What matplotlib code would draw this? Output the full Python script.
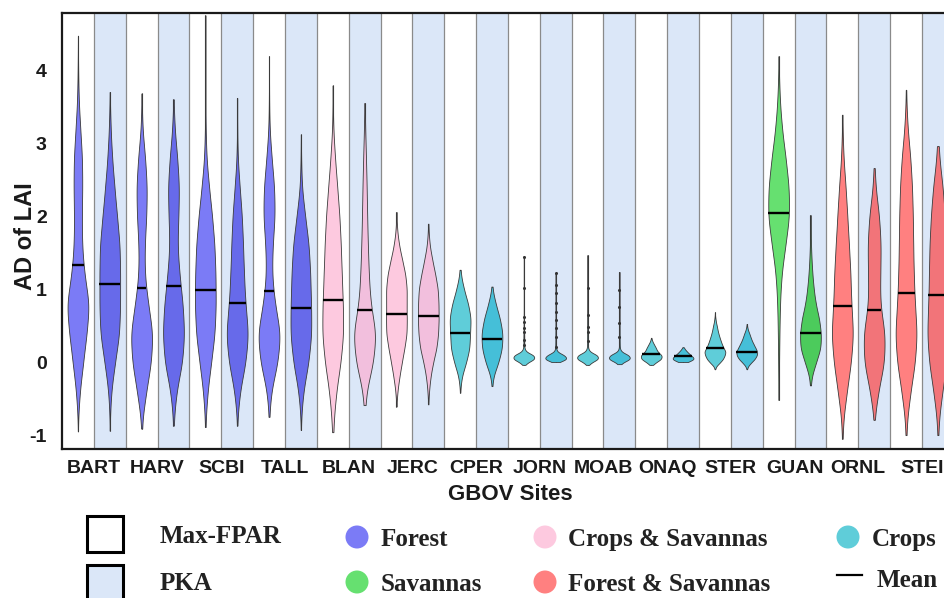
import numpy as np
import matplotlib
matplotlib.use("Agg")
import matplotlib.pyplot as plt
from matplotlib.patches import Rectangle, Ellipse
from matplotlib.lines import Line2D

plt.rcParams["axes.unicode_minus"] = False

# sites, in plot order (each site has a Max-FPAR and a PKA violin)
sites = ["BART", "HARV", "SCBI", "TALL", "BLAN", "JERC", "CPER",
         "JORN", "MOAB", "ONAQ", "STER", "GUAN", "ORNL", "STEI"]
site_type = ["Forest", "Forest", "Forest", "Forest",
             "Crops & Savannas", "Crops & Savannas",
             "Crops", "Crops", "Crops", "Crops", "Crops",
             "Savannas", "Forest & Savannas", "Forest & Savannas"]

# whisker extent (min, max) of AD of LAI
max_range = [(-0.94, 4.47), (-0.90, 3.68), (-0.88, 4.75), (-0.74, 4.19),
             (-0.95, 3.79), (-0.60, 2.06), (-0.41, 1.27), (-0.03, 1.46),
             (-0.03, 1.47), (-0.03, 0.34), (-0.09, 0.69), (-0.51, 4.19),
             (-1.04, 3.39), (-0.99, 3.73)]
pka_range = [(-0.93, 3.70), (-0.86, 3.60), (-0.86, 3.62), (-0.92, 3.12),
             (-0.58, 3.55), (-0.57, 1.90), (-0.32, 1.04), (0.01, 1.22),
             (-0.02, 1.24), (0.01, 0.21), (-0.09, 0.53), (-0.31, 2.02),
             (-0.78, 2.66), (-0.99, 2.96)]

# means (nan = no visible mean bar)
max_mean = [1.33, 1.02, 1.00, 0.98, 0.86, 0.67, 0.40, np.nan, np.nan,
            0.115, 0.20, 2.05, 0.77, 0.95]
pka_mean = [1.08, 1.05, 0.82, 0.75, 0.72, 0.64, 0.33, np.nan, np.nan,
            0.085, 0.145, 0.41, 0.72, 0.93]

# density: relative width at bin centres
grid_big = [-0.8, -0.4, 0.0, 0.4, 0.8, 1.2, 1.6, 2.0, 2.4, 2.8, 3.2, 3.6, 4.0]
grid_mid = [-0.6, -0.4, -0.2, 0.0, 0.2, 0.4, 0.6, 0.8, 1.0, 1.2, 1.4, 1.6, 1.8, 2.0]
grid_small = [-0.1, -0.05, 0.0, 0.05, 0.1, 0.15, 0.2, 0.25, 0.3, 0.35,
              0.4, 0.45, 0.5, 0.55, 0.6, 0.65, 0.7]

max_grid = ["big", "big", "big", "big", "big", "mid", "mid",
            "small", "small", "small", "small", "big", "big", "big"]
pka_grid = ["big", "big", "big", "big", "big", "mid", "mid",
            "small", "small", "small", "small", "mid", "big", "big"]

max_weights = [
    [0.0, 0.15, 0.45, 0.75, 1.0, 0.55, 0.35, 0.33, 0.38, 0.36, 0.2, 0.06, 0.02],
    [0.03, 0.38, 0.8, 0.95, 0.55, 0.25, 0.25, 0.4, 0.45, 0.3, 0.06, 0.01, 0.0],
    [0.02, 0.2, 0.55, 0.9, 1.0, 0.97, 0.88, 0.65, 0.35, 0.1, 0.03, 0.01, 0.005],
    [0.0, 0.15, 0.75, 1.0, 0.5, 0.24, 0.3, 0.5, 0.45, 0.22, 0.04, 0.01, 0.0],
    [0.08, 0.3, 0.7, 0.95, 0.9, 0.8, 0.72, 0.6, 0.4, 0.2, 0.04, 0.01, 0.0],
    [0.0, 0.08, 0.27, 0.5, 0.75, 0.97, 0.97, 0.95, 0.98, 0.85, 0.55, 0.25, 0.07, 0.01],
    [0.0, 0.0, 0.12, 0.55, 0.88, 0.9, 1.0, 0.75, 0.35, 0.06, 0.0, 0.0, 0.0, 0.0],
    [0.0, 0.0, 0.25, 0.8, 0.75, 0.15, 0.04, 0.03, 0.03, 0.03, 0.025, 0.02, 0.02, 0.015, 0.01, 0.01, 0.005],
    [0.0, 0.0, 0.25, 0.8, 0.75, 0.15, 0.04, 0.03, 0.03, 0.025, 0.02, 0.02, 0.015, 0.01, 0.01, 0.005, 0.0],
    [0.0, 0.0, 0.3, 0.75, 0.8, 0.45, 0.35, 0.2, 0.06, 0.0, 0.0, 0.0, 0.0, 0.0, 0.0, 0.0, 0.0],
    [0.0, 0.1, 0.45, 0.75, 0.9, 1.0, 0.8, 0.65, 0.53, 0.42, 0.32, 0.24, 0.18, 0.1, 0.05, 0.01, 0.0],
    [0.0, 0.02, 0.04, 0.07, 0.12, 0.25, 0.62, 1.0, 0.95, 0.65, 0.3, 0.1, 0.02],
    [0.06, 0.4, 0.78, 1.0, 0.8, 0.74, 0.6, 0.45, 0.3, 0.1, 0.02, 0.0, 0.0],
    [0.07, 0.4, 0.82, 1.0, 0.8, 0.7, 0.65, 0.62, 0.55, 0.4, 0.14, 0.02, 0.0],
]
pka_weights = [
    [0.0, 0.12, 0.5, 0.94, 1.0, 1.0, 0.97, 0.7, 0.45, 0.22, 0.08, 0.01, 0.0],
    [0.02, 0.25, 0.82, 1.0, 0.85, 0.55, 0.35, 0.45, 0.52, 0.35, 0.1, 0.01, 0.0],
    [0.0, 0.22, 0.75, 1.0, 0.72, 0.6, 0.52, 0.42, 0.22, 0.04, 0.01, 0.0, 0.0],
    [0.0, 0.2, 0.72, 1.0, 0.95, 0.88, 0.75, 0.4, 0.08, 0.02, 0.0, 0.0, 0.0],
    [0.0, 0.12, 0.75, 1.0, 0.5, 0.36, 0.28, 0.22, 0.18, 0.12, 0.05, 0.01, 0.0],
    [0.0, 0.06, 0.2, 0.45, 0.8, 0.95, 1.0, 0.98, 0.93, 0.68, 0.39, 0.13, 0.03, 0.0],
    [0.0, 0.0, 0.08, 0.6, 0.95, 1.0, 0.75, 0.35, 0.04, 0.0, 0.0, 0.0, 0.0, 0.0],
    [0.0, 0.0, 0.1, 0.8, 0.6, 0.08, 0.03, 0.025, 0.02, 0.02, 0.02, 0.015, 0.015, 0.01, 0.01, 0.005, 0.0],
    [0.0, 0.0, 0.2, 0.8, 0.7, 0.12, 0.03, 0.025, 0.02, 0.02, 0.015, 0.01, 0.01, 0.005, 0.0, 0.0, 0.0],
    [0.0, 0.0, 0.15, 0.8, 0.5, 0.25, 0.05, 0.0, 0.0, 0.0, 0.0, 0.0, 0.0, 0.0, 0.0, 0.0, 0.0],
    [0.0, 0.1, 0.4, 0.75, 0.95, 1.0, 0.82, 0.65, 0.48, 0.35, 0.24, 0.1, 0.03, 0.0, 0.0, 0.0, 0.0],
    [0.0, 0.0, 0.08, 0.5, 0.95, 0.97, 0.8, 0.48, 0.3, 0.18, 0.1, 0.05, 0.02, 0.0],
    [0.0, 0.32, 0.85, 0.9, 0.47, 0.5, 0.55, 0.42, 0.1, 0.01, 0.0, 0.0, 0.0],
    [0.07, 0.4, 0.82, 1.0, 0.88, 0.82, 0.78, 0.65, 0.45, 0.12, 0.01, 0.0, 0.0],
]

# scattered points along the thin tails
tail_dots = {
    ("JORN", "max"): [1.44, 1.02, 0.62, 0.55, 0.47, 0.42, 0.31, 0.24],
    ("JORN", "pka"): [1.22, 1.06, 0.95, 0.81, 0.69, 0.58, 0.47, 0.35, 0.21],
    ("MOAB", "max"): [1.02, 0.65, 0.49, 0.42, 0.30],
    ("MOAB", "pka"): [0.99, 0.76, 0.54, 0.35],
}

# styles
grids = {"big": grid_big, "mid": grid_mid, "small": grid_small}
colors = {
    "Forest": ("#7b7bf6", "#676aea"),
    "Crops & Savannas": ("#fdc9df", "#f2bfdd"),
    "Crops": ("#5fcdd9", "#45bfd8"),
    "Savannas": ("#66e070", "#4ccb5c"),
    "Forest & Savannas": ("#ff8080", "#f27479"),
}
pka_bg = "#dbe7f8"
vwidth = 0.65


def density(levels, weights, coords):
    levels = np.asarray(levels)
    weights = np.asarray(weights)
    bw = 0.6 * np.diff(levels).mean()
    z = (coords[:, None] - levels[None, :]) / bw
    return (weights[None, :] * np.exp(-0.5 * z ** 2)).sum(axis=1)


fig = plt.figure(figsize=(9.45, 5.98), dpi=100)
ax = fig.add_axes([62 / 945, 149 / 598, 28 * 31.85 / 945, 436 / 598])

ncol = 2 * len(sites)
for j in range(ncol):
    if j % 2 == 1:
        ax.axvspan(j, j + 1, color=pka_bg, lw=0, zorder=0)
for j in range(1, ncol):
    ax.axvline(j, color="#8a8a8a", lw=0.9, zorder=0.5)

stats, pos, faces = [], [], []
means = []
for i, s in enumerate(sites):
    for k, (rng, mn, gname, w) in enumerate([
            (max_range[i], max_mean[i], max_grid[i], max_weights[i]),
            (pka_range[i], pka_mean[i], pka_grid[i], pka_weights[i])]):
        lo, hi = rng
        coords = np.linspace(lo, hi, 400)
        vals = density(grids[gname], w, coords)
        stats.append(dict(coords=coords, vals=vals, mean=mn, median=mn,
                          min=lo, max=hi))
        p = 2 * i + k + 0.5
        pos.append(p)
        faces.append(colors[site_type[i]][k])
        means.append(mn)
        ax.vlines(p, lo, hi, color="#2a2a2a", lw=0.8, zorder=1)
        dots = tail_dots.get((s, "max" if k == 0 else "pka"))
        if dots:
            ax.plot([p] * len(dots), dots, "o", ms=1.2, color="#333333",
                    zorder=3)

parts = ax.violin(stats, positions=pos, widths=vwidth, showmeans=False,
                  showextrema=False, showmedians=False)
for body, fc in zip(parts["bodies"], faces):
    body.set_facecolor(fc)
    body.set_edgecolor("#3a3a3a")
    body.set_linewidth(0.6)
    body.set_alpha(1)
    body.set_zorder(2)

for st, p, mn in zip(stats, pos, means):
    if np.isnan(mn):
        continue
    hw = 0.5 * vwidth * np.interp(mn, st["coords"], st["vals"]) / st["vals"].max()
    ax.hlines(mn, p - hw, p + hw, color="black", lw=1.7, zorder=3)

ax.set_xlim(0, ncol)
ax.set_ylim(-1.18, 4.78)
ax.set_xticks([2 * i + 1 for i in range(len(sites))], sites)
ax.set_yticks([-1, 0, 1, 2, 3, 4])
for lab in ax.get_xticklabels() + ax.get_yticklabels():
    lab.set_fontfamily("Liberation Sans")
    lab.set_fontweight("bold")
    lab.set_fontsize(14)
    lab.set_color("#1a1a1a")
ax.tick_params(axis="x", length=0, pad=8)
ax.tick_params(axis="y", length=0, pad=11)
for side in ["left", "top", "bottom", "right"]:
    ax.spines[side].set_linewidth(1.6)
    ax.spines[side].set_color("#1a1a1a")


def fx(px):
    return px / 945


def fy(py):
    return 1 - py / 598


fig.text(fx(26), fy(236), "AD of LAI", rotation=90, ha="center", va="center",
         fontfamily="Liberation Sans", fontweight="bold", fontsize=17,
         color="#1a1a1a")
fig.text(fx(510), fy(494), "GBOV Sites", ha="center", va="center",
         fontfamily="Liberation Sans", fontweight="bold", fontsize=16,
         color="#1a1a1a")

# legend
leg_font = dict(fontfamily="Liberation Serif", fontweight="bold", fontsize=18,
                color="#222222", va="baseline")
fig.add_artist(Rectangle((fx(87), fy(552)), 36 / 945, 36 / 598,
                         transform=fig.transFigure, facecolor="white",
                         edgecolor="black", lw=2.2))
fig.add_artist(Rectangle((fx(87), fy(601)), 36 / 945, 36 / 598,
                         transform=fig.transFigure, facecolor=pka_bg,
                         edgecolor="black", lw=2.2))
fig.text(fx(160), fy(543), "Max-FPAR", **leg_font)
fig.text(fx(160), fy(590), "PKA", **leg_font)

legend_items = [("Forest", 357, 537, 381, 546),
                ("Savannas", 357, 582, 381, 591),
                ("Crops & Savannas", 545, 537, 568, 546),
                ("Forest & Savannas", 545, 582, 568, 591),
                ("Crops", 848, 537, 872, 546)]
for name, cx, cy, tx, ty in legend_items:
    fig.add_artist(Ellipse((fx(cx), fy(cy)), 23 / 945, 23 / 598,
                           transform=fig.transFigure,
                           facecolor=colors[name][0], edgecolor="none"))
    fig.text(fx(tx), fy(ty), name, **leg_font)
fig.add_artist(Line2D([fx(837), fx(862)], [fy(575), fy(575)],
                      transform=fig.transFigure, color="black", lw=1.6))
fig.text(fx(877), fy(587), "Mean", **leg_font)

fig.savefig("out.png", dpi=100)
